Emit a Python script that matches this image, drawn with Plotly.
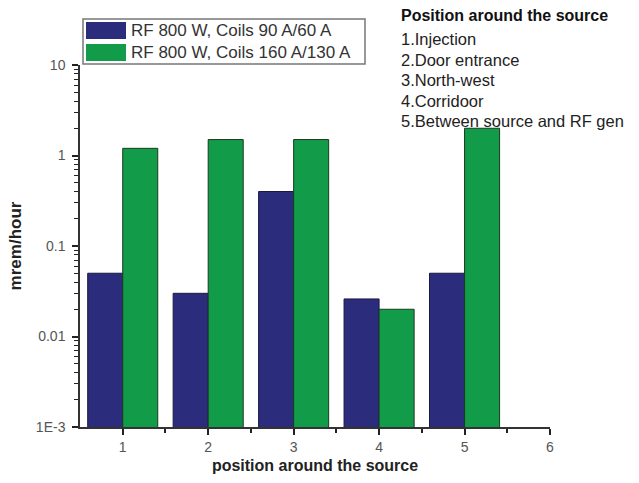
import plotly.graph_objects as go

positions = [1, 2, 3, 4, 5]
series_names = ["RF 800 W, Coils 90 A/60 A", "RF 800 W, Coils 160 A/130 A"]
low_coils = [0.05, 0.03, 0.40, 0.026, 0.05]
high_coils = [1.2, 1.5, 1.5, 0.02, 2.0]
ytick_vals = [0.001, 0.01, 0.1, 1, 10]
ytick_text = ["1E-3", "0.01", "0.1", "1", "10"]
xtick_vals = [1, 2, 3, 4, 5, 6]
note_title = "Position around the source"
note_lines = ["1.Injection", "2.Door entrance", "3.North-west", "4.Corridoor",
              "5.Between source and RF gen"]

BLUE = "#2b2c7c"
GREEN = "#129b48"
W, H = 639, 483
L, R, T, B = 80, 89, 65, 56
pw, ph = W - L - R, H - T - B


def px(x):
    return (x - L) / pw


def py(y):
    return (H - B - y) / ph


y_minor = [m * d for d in ytick_vals[:-1] for m in range(2, 10)]
x_minor = [v + 0.5 for v in xtick_vals[:-1]]

fig = go.Figure()
fig.add_trace(go.Bar(x=positions, y=low_coils, name=series_names[0],
                     marker=dict(color=BLUE, line=dict(color="#1a1a40", width=1))))
fig.add_trace(go.Bar(x=positions, y=high_coils, name=series_names[1],
                     marker=dict(color=GREEN, line=dict(color="#1a3a20", width=1))))

font_family = "Liberation Sans, Arial, sans-serif"
shapes = [
    dict(type="rect", xref="paper", yref="paper", x0=px(83), x1=px(365), y0=py(64), y1=py(19),
         line=dict(color="#777777", width=1.5), fillcolor="white"),
    dict(type="rect", xref="paper", yref="paper", x0=px(86), x1=px(126), y0=py(39), y1=py(22),
         line=dict(width=0), fillcolor=BLUE),
    dict(type="rect", xref="paper", yref="paper", x0=px(86), x1=px(126), y0=py(61), y1=py(44),
         line=dict(width=0), fillcolor=GREEN),
]
annotations = [
    dict(x=px(129), y=py(30.5), xref="paper", yref="paper", text=series_names[0], showarrow=False,
         xanchor="left", yanchor="middle", font=dict(size=17, color="#333", family=font_family)),
    dict(x=px(129), y=py(52.5), xref="paper", yref="paper", text=series_names[1], showarrow=False,
         xanchor="left", yanchor="middle", font=dict(size=17, color="#333", family=font_family)),
    dict(x=px(399), y=py(16), xref="paper", yref="paper", text="<b>" + note_title + "</b>",
         showarrow=False, xanchor="left", yanchor="middle",
         font=dict(size=16, color="#111", family=font_family)),
]
for i, line in enumerate(note_lines):
    annotations.append(dict(x=px(399), y=py(39 + 20.5 * i), xref="paper", yref="paper", text=line,
                            showarrow=False, xanchor="left", yanchor="middle",
                            font=dict(size=16.5, color="#222", family=font_family)))

fig.update_layout(
    width=W, height=H,
    margin=dict(l=L, r=R, t=T, b=B),
    paper_bgcolor="white", plot_bgcolor="white",
    barmode="group", bargap=0.18, bargroupgap=0,
    showlegend=False,
    font=dict(family=font_family, color="#333"),
    shapes=shapes, annotations=annotations,
    xaxis=dict(range=[0.5, 6], tickvals=xtick_vals, ticks="outside", ticklen=6, tickwidth=1.5,
               tickcolor="#222", showline=True, linecolor="#333", linewidth=1.5,
               showgrid=False, zeroline=False, tickfont=dict(size=14, color="#555"),
               minor=dict(tickvals=x_minor, ticks="outside", ticklen=4, tickwidth=1.5,
                          tickcolor="#222", showgrid=False),
               title=dict(text="<b>position around the source</b>", font=dict(size=16, color="#222"),
                          standoff=6)),
    yaxis=dict(type="log", range=[-3, 1], tickvals=ytick_vals, ticktext=ytick_text,
               ticks="outside", ticklen=6, tickwidth=1.5, tickcolor="#222",
               showline=True, linecolor="#333", linewidth=1.5, showgrid=False, zeroline=False,
               tickfont=dict(size=14, color="#555"), ticklabelstandoff=4,
               minor=dict(tickvals=y_minor, ticks="outside", ticklen=4, tickwidth=1.2,
                          tickcolor="#222", showgrid=False),
               title=dict(text="<b>mrem/hour</b>", font=dict(size=17, color="#222"), standoff=10)),
)

fig.write_html("out.html")
